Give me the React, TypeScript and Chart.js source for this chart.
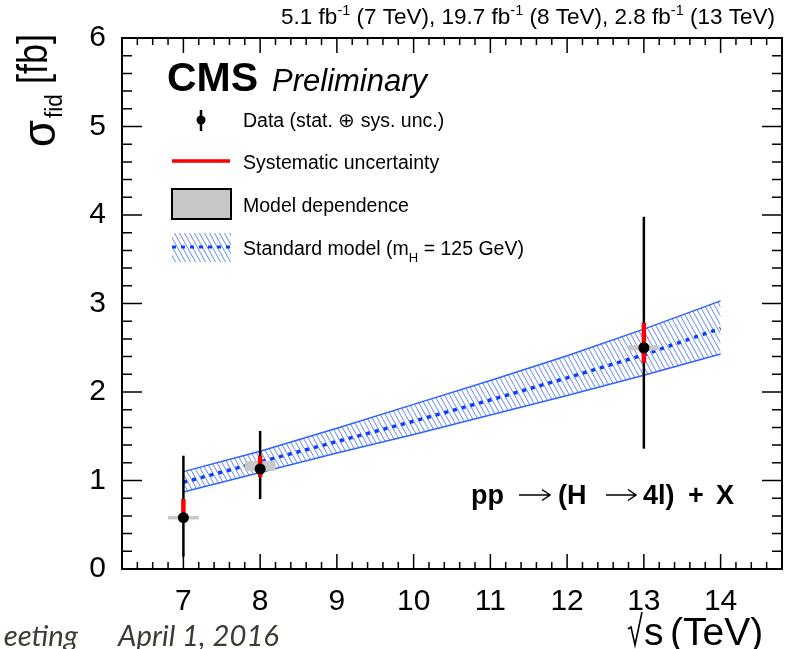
import React, { useEffect, useRef } from 'react';
import { Chart, registerables } from 'chart.js';

Chart.register(...registerables);

// ---- Data ----
const energies = [7, 8, 13];
const xsec = [0.58, 1.13, 2.5];
const totalHigh = [1.28, 1.56, 3.98];
const totalLow = [0.14, 0.79, 1.36];
const sysHigh = [0.79, 1.28, 2.78];
const sysLow = [0.55, 1.04, 2.33];
const modelHigh = [0.6, 1.22, 2.53];
const modelLow = [0.56, 1.11, 2.47];
const modelHalfWidth = 0.2;

const smEnergies = [7, 8, 9, 10, 11, 12, 13, 14];
const smCentral = [0.98, 1.21, 1.44, 1.67, 1.91, 2.16, 2.42, 2.72];
const smUpper = [1.1, 1.33, 1.59, 1.86, 2.13, 2.41, 2.71, 3.03];
const smLower = [0.87, 1.09, 1.31, 1.52, 1.74, 1.96, 2.19, 2.43];

const xMin = 6.2;
const xMax = 14.8;
const yMin = 0;
const yMax = 6;

const lumiParts = [
  { t: '5.1 fb', s: '-1' },
  { t: ' (7 TeV), 19.7 fb', s: '-1' },
  { t: ' (8 TeV), 2.8 fb', s: '-1' },
  { t: ' (13 TeV)', s: '' },
];

const FONT = '"Liberation Sans", Arial, Helvetica, sans-serif';
const BLUE = '#0a3cff';
const BAND_EDGE = '#2f63ff';

function makeHatch(): CanvasPattern | string {
  const tile = document.createElement('canvas');
  tile.width = 5;
  tile.height = 9;
  const t = tile.getContext('2d');
  if (!t) return 'rgba(60,100,255,0.3)';
  t.strokeStyle = 'rgba(50,95,255,0.95)';
  t.lineWidth = 0.8;
  for (const dx of [-5, 0, 5]) {
    t.beginPath();
    t.moveTo(dx, 0);
    t.lineTo(dx + 5, 9);
    t.stroke();
  }
  const p = t.createPattern(tile, 'repeat');
  return p || 'rgba(60,100,255,0.3)';
}

// draw text squeezed/stretched horizontally to a target advance width
function drawFit(ctx: CanvasRenderingContext2D, text: string, x: number, y: number, font: string, width: number) {
  ctx.font = font;
  const w = ctx.measureText(text).width;
  ctx.save();
  ctx.translate(x, y);
  ctx.scale(width / w, 1);
  ctx.fillText(text, 0, 0);
  ctx.restore();
}

function drawArrow(ctx: CanvasRenderingContext2D, x0: number, x1: number, y: number) {
  ctx.save();
  ctx.strokeStyle = '#000';
  ctx.lineWidth = 1.5;
  ctx.beginPath();
  ctx.moveTo(x0, y);
  ctx.lineTo(x1, y);
  ctx.moveTo(x1 - 8, y - 5.5);
  ctx.lineTo(x1, y);
  ctx.lineTo(x1 - 8, y + 5.5);
  ctx.stroke();
  ctx.restore();
}

export default function App() {
  const ref = useRef<HTMLCanvasElement | null>(null);

  useEffect(() => {
    const canvas = ref.current;
    if (!canvas) return;
    const hatch = makeHatch();

    const errorBarPlugin = {
      id: 'errorBars',
      beforeDatasetDraw(chart: any, args: any) {
        if (args.index !== 0) return;
        const { ctx, scales } = chart;
        const xs = scales.x;
        const ys = scales.y;
        ctx.save();
        ctx.fillStyle = '#c8c8c8';
        energies.forEach((e, i) => {
          const x0 = xs.getPixelForValue(e - modelHalfWidth);
          const x1 = xs.getPixelForValue(e + modelHalfWidth);
          let y0 = ys.getPixelForValue(modelHigh[i]);
          let y1 = ys.getPixelForValue(modelLow[i]);
          if (y1 - y0 < 3.5) {
            const m = (y0 + y1) / 2;
            y0 = m - 1.75;
            y1 = m + 1.75;
          }
          ctx.fillRect(x0, y0, x1 - x0, y1 - y0);
        });
        ctx.strokeStyle = '#000';
        ctx.lineWidth = 2.5;
        energies.forEach((e, i) => {
          const x = xs.getPixelForValue(e);
          ctx.beginPath();
          ctx.moveTo(x, ys.getPixelForValue(totalLow[i]));
          ctx.lineTo(x, ys.getPixelForValue(totalHigh[i]));
          ctx.stroke();
        });
        ctx.strokeStyle = '#ff0000';
        ctx.lineWidth = 4.5;
        energies.forEach((e, i) => {
          const x = xs.getPixelForValue(e);
          ctx.beginPath();
          ctx.moveTo(x, ys.getPixelForValue(sysLow[i]));
          ctx.lineTo(x, ys.getPixelForValue(sysHigh[i]));
          ctx.stroke();
        });
        ctx.restore();
      },
    };

    const framePlugin = {
      id: 'frameTicks',
      afterDatasetsDraw(chart: any) {
        const { ctx, chartArea, scales } = chart;
        const xs = scales.x;
        const ys = scales.y;
        const { left, right, top, bottom } = chartArea;
        ctx.save();
        ctx.strokeStyle = '#000';
        ctx.lineWidth = 1.5;
        for (let k = 0; k <= Math.round((xMax - xMin) / 0.2); k++) {
          const v = Math.round((xMin + k * 0.2) * 10) / 10;
          const major = Math.abs(v - Math.round(v)) < 1e-6;
          const len = major ? 15 : 7;
          const px = xs.getPixelForValue(v);
          ctx.beginPath();
          ctx.moveTo(px, bottom);
          ctx.lineTo(px, bottom - len);
          ctx.moveTo(px, top);
          ctx.lineTo(px, top + len);
          ctx.stroke();
        }
        for (let k = 0; k <= Math.round((yMax - yMin) / 0.2); k++) {
          const v = Math.round((yMin + k * 0.2) * 10) / 10;
          const major = Math.abs(v - Math.round(v)) < 1e-6;
          const len = major ? 20 : 10;
          const py = ys.getPixelForValue(v);
          ctx.beginPath();
          ctx.moveTo(left, py);
          ctx.lineTo(left + len, py);
          ctx.moveTo(right, py);
          ctx.lineTo(right - len, py);
          ctx.stroke();
        }
        ctx.lineWidth = 2;
        ctx.strokeRect(left, top, right - left, bottom - top);
        ctx.restore();
      },
    };

    const textPlugin = {
      id: 'texts',
      afterDraw(chart: any) {
        const ctx: CanvasRenderingContext2D = chart.ctx;
        ctx.save();
        ctx.fillStyle = '#000';
        ctx.textBaseline = 'alphabetic';

        // lumi label (right aligned)
        const main = `22.5px ${FONT}`;
        const sup = `14.5px ${FONT}`;
        let total = 0;
        lumiParts.forEach((p) => {
          ctx.font = main;
          total += ctx.measureText(p.t).width;
          if (p.s) {
            ctx.font = sup;
            total += ctx.measureText(p.s).width;
          }
        });
        let x = 775 - total;
        lumiParts.forEach((p) => {
          ctx.font = main;
          ctx.fillText(p.t, x, 24);
          x += ctx.measureText(p.t).width;
          if (p.s) {
            ctx.font = sup;
            ctx.fillText(p.s, x, 15);
            x += ctx.measureText(p.s).width;
          }
        });

        // CMS Preliminary
        ctx.font = `bold 41px ${FONT}`;
        ctx.fillText('CMS', 167, 91);
        ctx.font = `italic 31px ${FONT}`;
        ctx.fillText('Preliminary', 272, 91);

        // legend
        ctx.font = `19.5px ${FONT}`;
        ctx.textBaseline = 'middle';
        ctx.fillText('Data (stat. \u2295 sys. unc.)', 243, 122);
        ctx.fillText('Systematic uncertainty', 243, 164);
        ctx.fillText('Model dependence', 243, 207);
        const smText = 'Standard model (m';
        ctx.fillText(smText, 243, 250);
        let sx = 243 + ctx.measureText(smText).width;
        ctx.font = `13px ${FONT}`;
        ctx.fillText('H', sx, 258);
        sx += ctx.measureText('H').width;
        ctx.font = `19.5px ${FONT}`;
        ctx.fillText(' = 125 GeV)', sx, 250);

        // legend symbols
        ctx.strokeStyle = '#000';
        ctx.lineWidth = 2.5;
        ctx.beginPath();
        ctx.moveTo(201, 110);
        ctx.lineTo(201, 131);
        ctx.stroke();
        ctx.beginPath();
        ctx.arc(201, 120, 4.5, 0, Math.PI * 2);
        ctx.fill();

        ctx.strokeStyle = '#ff0000';
        ctx.lineWidth = 3.5;
        ctx.beginPath();
        ctx.moveTo(172, 161);
        ctx.lineTo(230, 161);
        ctx.stroke();

        ctx.fillStyle = '#c8c8c8';
        ctx.fillRect(172, 189, 59, 30);
        ctx.strokeStyle = '#000';
        ctx.lineWidth = 2;
        ctx.strokeRect(172, 189, 59, 30);

        ctx.fillStyle = hatch as any;
        ctx.fillRect(172, 233, 59, 29);
        ctx.strokeStyle = BLUE;
        ctx.lineWidth = 3;
        ctx.setLineDash([4, 5]);
        ctx.beginPath();
        ctx.moveTo(172, 247);
        ctx.lineTo(231, 247);
        ctx.stroke();
        ctx.setLineDash([]);

        // process label
        ctx.fillStyle = '#000';
        ctx.textBaseline = 'alphabetic';
        ctx.font = `bold 27px ${FONT}`;
        ctx.fillText('pp', 471, 504);
        drawArrow(ctx, 519, 550, 495);
        ctx.fillText('(H', 558, 504);
        drawArrow(ctx, 606, 636, 495);
        ctx.fillText('4l)', 643, 504);
        ctx.fillText('+', 688, 504);
        ctx.fillText('X', 716, 504);

        // y title (rotated, text runs upward)
        ctx.save();
        ctx.translate(0, 147);
        ctx.rotate(-Math.PI / 2);
        // in rotated frame: x' = 147 - screenY, y' = screenX
        drawFit(ctx, '\u03c3', 0, 55, `46px ${FONT}`, 27);
        drawFit(ctx, 'fid', 29, 62, `23px ${FONT}`, 24);
        drawFit(ctx, '[fb]', 63, 47, `42px ${FONT}`, 50);
        ctx.restore();

        // x title
        ctx.font = `39px ${FONT}`;
        ctx.fillText('s', 644, 645);
        ctx.fillText('(TeV)', 670, 645);
        ctx.strokeStyle = '#000';
        ctx.lineWidth = 1.6;
        ctx.beginPath();
        ctx.moveTo(628, 629);
        ctx.lineTo(631, 627);
        ctx.lineTo(635, 645);
        ctx.lineTo(642, 612);
        ctx.stroke();

        // footer (cut-off slide text)
        ctx.fillStyle = '#3c3c32';
        const ff = 'Lato, "Open Sans", sans-serif';
        ctx.font = `italic 28px ${ff}`;
        const wA = ctx.measureText('April 1, 2016').width;
        const fs = (28 * 161) / wA;
        ctx.font = `italic ${fs}px ${ff}`;
        ctx.fillText('April 1, 2016', 118, 646);
        const wE = ctx.measureText('eeting').width;
        ctx.fillText('eeting', 78 - wE, 646);
        ctx.restore();
      },
    };

    const chart = new Chart(canvas, {
      type: 'line',
      data: {
        datasets: [
          {
            label: 'Data',
            type: 'scatter',
            data: energies.map((e, i) => ({ x: e, y: xsec[i] })),
            pointRadius: 5.5,
            pointBackgroundColor: '#000',
            pointBorderColor: '#000',
            pointBorderWidth: 0,
            showLine: false,
          } as any,
          {
            label: 'SM',
            data: smEnergies.map((e, i) => ({ x: e, y: smCentral[i] })),
            borderColor: BLUE,
            borderWidth: 3.5,
            borderDash: [4, 5],
            pointRadius: 0,
            fill: false,
          },
          {
            label: 'SM up',
            data: smEnergies.map((e, i) => ({ x: e, y: smUpper[i] })),
            borderColor: BAND_EDGE,
            borderWidth: 1.5,
            pointRadius: 0,
            fill: false,
          },
          {
            label: 'SM low',
            data: smEnergies.map((e, i) => ({ x: e, y: smLower[i] })),
            borderColor: BAND_EDGE,
            borderWidth: 1.5,
            pointRadius: 0,
            fill: '-1',
            backgroundColor: hatch as any,
          },
        ],
      },
      options: {
        animation: false,
        responsive: false,
        maintainAspectRatio: false,
        events: [],
        layout: { padding: { top: 38, right: 6, left: 0, bottom: 0 } },
        plugins: {
          legend: { display: false },
          tooltip: { enabled: false },
        },
        scales: {
          x: {
            type: 'linear',
            min: xMin,
            max: xMax,
            grid: { display: false },
            border: { display: false },
            ticks: {
              stepSize: 1,
              includeBounds: false,
              color: '#000',
              padding: 7,
              maxRotation: 0,
              font: { family: FONT, size: 30 },
            },
            afterFit: (s: any) => {
              s.height = 80;
            },
          },
          y: {
            type: 'linear',
            min: yMin,
            max: yMax,
            grid: { display: false },
            border: { display: false },
            ticks: {
              stepSize: 1,
              includeBounds: false,
              color: '#000',
              padding: 8,
              font: { family: FONT, size: 30 },
            },
            afterFit: (s: any) => {
              s.width = 122;
            },
          },
        },
      } as any,
      plugins: [errorBarPlugin, framePlugin, textPlugin],
    });
    return () => chart.destroy();
  }, []);

  return (
    <div style={{ position: 'fixed', left: 0, top: 0, width: 788, height: 649, background: '#fff' }}>
      <canvas ref={ref} width={788} height={649} style={{ width: 788, height: 649, display: 'block' }} />
    </div>
  );
}
